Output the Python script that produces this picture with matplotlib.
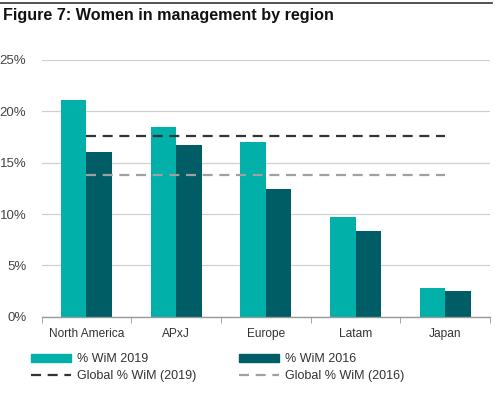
import matplotlib
matplotlib.use("Agg")
import matplotlib.pyplot as plt
from matplotlib.patches import Patch
from matplotlib.lines import Line2D
import numpy as np

plt.rcParams['font.family'] = ['Liberation Sans', 'DejaVu Sans']

categories = ["North America", "APxJ", "Europe", "Latam", "Japan"]
wim_2019 = [21.1, 18.5, 17.0, 9.7, 2.8]
wim_2016 = [16.0, 16.7, 12.4, 8.3, 2.5]
global_2019 = 17.6
global_2016 = 13.8
yticks = [0, 5, 10, 15, 20, 25]

c19 = "#00B0A9"
c16 = "#005D66"

fig = plt.figure(figsize=(4.95, 3.94), dpi=100)
ax = fig.add_axes([0.084, 0.196, 0.906, 0.652])

x = np.arange(len(categories))
w = 0.285
ax.bar(x - w/2, wim_2019, w, color=c19, zorder=3)
ax.bar(x + w/2, wim_2016, w, color=c16, zorder=3)
ax.plot([x[0], x[-1]], [global_2019]*2, color="#333333", lw=1.6, ls=(0, (4.5, 3)), zorder=4)
ax.plot([x[0], x[-1]], [global_2016]*2, color="#A0A0A0", lw=1.6, ls=(0, (4.5, 3)), zorder=4)

ax.set_xlim(-0.5, len(categories) - 0.5)
ax.set_ylim(0, 25)
ax.set_yticks(yticks)
ax.set_yticklabels([f"{v}%" for v in yticks])
ax.set_xticks(x)
ax.set_xticklabels(categories)
ax.set_xticks(np.arange(-0.5, len(categories)), minor=True)
ax.tick_params(axis='x', which='major', length=0, pad=8, labelsize=8.6, labelcolor="#333333")
ax.tick_params(axis='x', which='minor', length=4, color="#999999", direction='out')
ax.tick_params(axis='y', length=0, pad=11, labelsize=9.5, labelcolor="#444444")
ax.grid(axis='y', color="#D0D0D0", lw=0.9, zorder=0)
for s in ["left", "right", "top"]:
    ax.spines[s].set_visible(False)
ax.spines["bottom"].set_color("#999999")
ax.spines["bottom"].set_linewidth(1.0)
ax.spines["bottom"].set_zorder(5)

fig.add_artist(Line2D([0.0, 0.994], [0.992, 0.992], color="#333333", lw=1.2, transform=fig.transFigure))
fig.text(0.006, 0.960, "Figure 7: Women in management by region", fontsize=11.6,
         fontweight='bold', va='center', ha='left', color="#111111")

handles = [Patch(color=c19), Line2D([], [], color="#333333", lw=1.6, ls=(0, (4.5, 3))),
           Patch(color=c16), Line2D([], [], color="#A0A0A0", lw=1.6, ls=(0, (4.5, 3)))]
labels = ["% WiM 2019", "Global % WiM (2019)", "% WiM 2016", "Global % WiM (2016)"]
leg = fig.legend(handles, labels, ncol=2, loc='upper left', bbox_to_anchor=(0.050, 0.120),
                 frameon=False, fontsize=9, handlelength=3.2, handleheight=0.6,
                 columnspacing=3.4, labelspacing=0.42, handletextpad=0.5, borderpad=0)
for t in leg.get_texts():
    t.set_color("#333333")

fig.savefig("out.png", dpi=100)
